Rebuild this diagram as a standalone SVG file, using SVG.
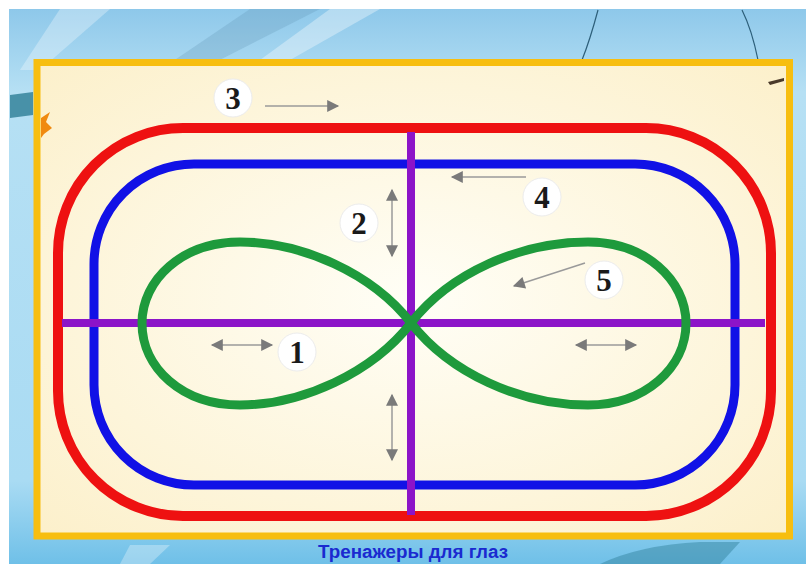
<svg xmlns="http://www.w3.org/2000/svg" width="806" height="564" viewBox="0 0 806 564">
<defs>
<linearGradient id="bg" x1="0" y1="0" x2="0" y2="1">
<stop offset="0" stop-color="#8ec8ea"/>
<stop offset="0.15" stop-color="#b6e0f4"/>
<stop offset="0.85" stop-color="#a9dbf3"/>
<stop offset="1" stop-color="#6fc0e8"/>
</linearGradient>
<radialGradient id="cream" cx="0.5" cy="0.5" r="0.7">
<stop offset="0" stop-color="#fffef6"/>
<stop offset="1" stop-color="#fcf0cb"/>
</radialGradient>
<marker id="ah2" viewBox="0 0 10 10" refX="9" refY="5" markerWidth="14" markerHeight="12" orient="auto-start-reverse" markerUnits="userSpaceOnUse">
<path d="M0,0 L10,5 L0,10 Z" fill="#7a7a7a"/>
</marker>
</defs>
<style>
.arr{stroke:#9a9a9a;stroke-width:1.5;fill:none;marker-end:url(#ah2)}
.dbl{stroke:#9a9a9a;stroke-width:1.5;fill:none;marker-end:url(#ah2);marker-start:url(#ah2)}
.badge{fill:#ffffff;stroke:#ececec;stroke-width:1}
.num{font-family:"Liberation Serif","Times New Roman",serif;font-weight:bold;font-size:31px;fill:#1a1a1a;text-anchor:middle}
.track{fill:none}
</style>
<rect x="0" y="0" width="806" height="564" fill="#ffffff"/>
<rect x="9" y="9" width="797" height="555" fill="url(#bg)"/>
<path d="M60,9 L110,9 L40,70 L20,70 Z" fill="#ffffff" opacity="0.3"/>
<path d="M250,9 L320,9 L200,70 L160,70 Z" fill="#5d8fae" opacity="0.25"/>
<path d="M330,9 L380,9 L290,60 L260,60 Z" fill="#ffffff" opacity="0.35"/>
<path d="M10,95 L33,92 L33,115 L10,118 Z" fill="#2d7d95" opacity="0.8"/>
<path d="M598,10 Q590,40 582,60" stroke="#2d5f7a" stroke-width="1.2" fill="none"/>
<path d="M742,10 Q752,30 758,60" stroke="#2d5f7a" stroke-width="1.2" fill="none"/>
<path d="M600,564 Q640,545 700,542 L740,542 L720,564 Z" fill="#2f7f98" opacity="0.45"/>
<path d="M130,545 L170,545 L150,564 L120,564 Z" fill="#ffffff" opacity="0.3"/>
<rect id="frame" x="37" y="62.5" width="752.5" height="473.5" fill="url(#cream)" stroke="#f7be10" stroke-width="7"/>
<path d="M41,118 L50,112 L46,122 L52,128 L44,134 L41,138 Z" fill="#f08a10"/>
<path d="M768,82 L784,78 L784,81 L770,85 Z" fill="#4a3a2a"/>
<g id="connectors">
<rect id="track3" class="track" x="58" y="128" width="713" height="388" rx="125" ry="125" stroke="#ee1111" stroke-width="10"/>
<rect id="track4" class="track" x="94" y="164" width="641" height="321" rx="100" ry="100" stroke="#1111e6" stroke-width="9"/>
<line id="track1" x1="62" y1="323" x2="765" y2="323" stroke="#8c14c8" stroke-width="8"/>
<line id="track2" x1="411" y1="132" x2="411" y2="515" stroke="#8c14c8" stroke-width="8"/>
<path id="track5" class="track" d="M411,323 C450,273 520,242 588,242 C645,242 686,280 686,323 C686,368 645,405 588,405 C520,405 450,373 411,323 C372,273 302,242 240,242 C182,242 142,280 142,323 C142,368 182,405 240,405 C302,405 372,373 411,323 Z" stroke="#1e9a3c" stroke-width="9"/>
<line class="arr" x1="265" y1="106" x2="338" y2="106"/>
<line class="arr" x1="526" y1="177" x2="452" y2="177"/>
<line class="arr" x1="585" y1="263" x2="514" y2="286"/>
<line class="dbl" x1="392" y1="190" x2="392" y2="256"/>
<line class="dbl" x1="212" y1="345" x2="272" y2="345"/>
<line class="dbl" x1="576" y1="345" x2="636" y2="345"/>
<line class="dbl" x1="392" y1="395" x2="392" y2="460"/>
</g>
<g id="n3"><circle class="badge" cx="233" cy="98" r="19"/><text class="num" x="233" y="109">3</text></g>
<g id="n4"><circle class="badge" cx="542" cy="197" r="19"/><text class="num" x="542" y="208">4</text></g>
<g id="n2"><circle class="badge" cx="359" cy="223" r="19"/><text class="num" x="359" y="234">2</text></g>
<g id="n1"><circle class="badge" cx="297" cy="352" r="19"/><text class="num" x="297" y="363">1</text></g>
<g id="n5"><circle class="badge" cx="604" cy="280" r="19"/><text class="num" x="604" y="291">5</text></g>
<text id="caption" x="413" y="558" font-family="'Liberation Sans',Arial,sans-serif" font-weight="bold" font-size="17.5" fill="#1a2ad0" text-anchor="middle" textLength="190" lengthAdjust="spacingAndGlyphs">Тренажеры для глаз</text>
</svg>
